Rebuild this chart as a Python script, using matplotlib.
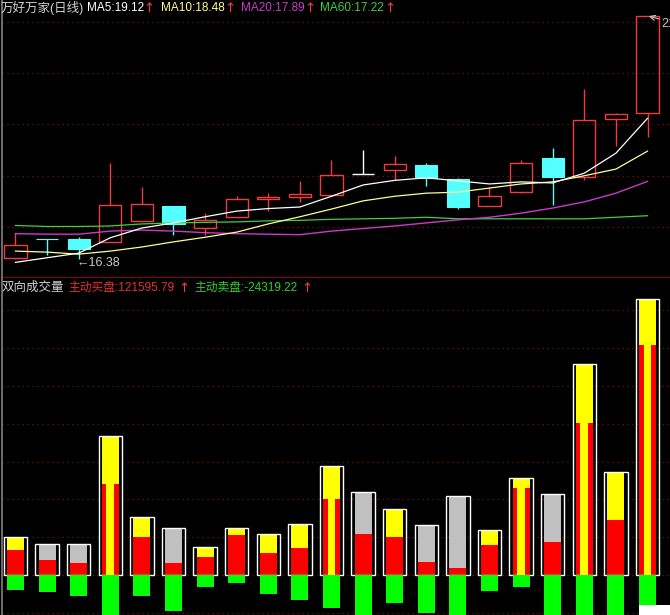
import matplotlib
matplotlib.use("Agg")
import matplotlib.pyplot as plt
from matplotlib.lines import Line2D
from matplotlib.patches import Rectangle
import numpy as np

W, H = 670, 615

# daily candles
opens  = [16.40, 16.77, 16.76, 16.71, 17.12, 17.41, 16.98, 17.20, 17.55, 17.59, 17.62,
          18.03, 18.11, 18.21, 17.94, 17.41, 17.68, 18.35, 17.98, 19.11, 19.22]
highs  = [16.88, 16.77, 16.80, 18.25, 17.78, 17.41, 17.27, 17.60, 17.66, 17.90, 18.31,
          18.50, 18.39, 18.25, 17.96, 17.78, 18.31, 18.54, 19.69, 19.22, 21.12]
lows   = [16.40, 16.46, 16.38, 16.71, 17.12, 16.84, 16.84, 17.20, 17.31, 17.49, 17.62,
          18.03, 17.92, 17.80, 17.35, 17.41, 17.66, 17.43, 17.92, 18.58, 18.76]
closes = [16.65, 16.76, 16.57, 17.43, 17.45, 17.06, 17.14, 17.55, 17.59, 17.64, 18.01,
          18.03, 18.23, 17.96, 17.39, 17.60, 18.25, 17.98, 19.09, 19.20, 21.12]

ma5  = [16.31, 16.40, 16.49, 16.79, 16.98, 17.08, 17.20, 17.31, 17.36, 17.39, 17.60,
        17.82, 17.91, 17.96, 17.90, 17.84, 17.88, 17.86, 18.05, 18.44, 19.12]
ma10 = [16.53, 16.51, 16.47, 16.53, 16.61, 16.71, 16.80, 16.90, 17.06, 17.20, 17.35,
        17.51, 17.60, 17.66, 17.68, 17.76, 17.84, 17.88, 18.00, 18.13, 18.48]
ma20 = [16.87, 16.86, 16.86, 16.92, 16.94, 16.92, 16.89, 16.87, 16.86, 16.85, 16.92,
        16.97, 17.02, 17.08, 17.14, 17.19, 17.27, 17.37, 17.49, 17.66, 17.89]
ma60 = [17.03, 17.01, 17.01, 17.02, 17.06, 17.08, 17.09, 17.10, 17.12, 17.13, 17.15,
        17.16, 17.17, 17.19, 17.16, 17.16, 17.16, 17.16, 17.16, 17.19, 17.22]

# two-way volume (active buy / active sell)
vol_total = [19930, 16230, 16230, 73650, 30510, 24690, 14645, 24690, 21518, 26805, 57628,
             43723, 34736, 26276, 41926, 23792, 51443, 42666, 111396, 54297, 145763]
vol_buy   = [13218, 7931, 6503, 48112, 20249, 6503, 9675, 21148, 11790, 14434, 40181,
             21677, 20249, 7032, 3542, 15861, 46156, 17606, 80521, 29079, 121595.79]
vol_sell  = [7931, 8829, 10944, 31722, 10944, 18875, 6186, 4071, 10204, 13218, 17606,
             26435, 14962, 19932, 31722, 8301, 6186, 25378, 37009, 23792, 24319.22]

price_grid = [17, 18, 19, 20, 21]
vol_grid = [-20000, 0, 20000, 40000, 60000, 80000, 100000, 120000, 140000]

RED = "#F03C3C"
CYAN = "#54FFFF"
GRID = "#7A1010"
x = np.arange(len(closes))

fig = plt.figure(figsize=(W / 100, H / 100), dpi=100, facecolor="black")
ax1 = fig.add_axes([2 / W, (H - 278) / H, (W - 2) / W, 278 / H])
ax2 = fig.add_axes([2 / W, 0, (W - 2) / W, (H - 278) / H])

for ax in (ax1, ax2):
    ax.set_facecolor("black")
    ax.set_xlim(-0.427, 20.712)
    ax.set_xticks([])
    ax.tick_params(length=0, labelleft=False)
    ax.set_axisbelow(True)
    ax.yaxis.grid(True, color=GRID, linestyle=(0, (1, 3)), linewidth=0.9)
    for s in ax.spines.values():
        s.set_visible(False)

ax1.set_ylim(16.005, 21.429)
ax1.set_yticks(price_grid)
ax1.spines["bottom"].set_visible(True)
ax1.spines["bottom"].set_color("#B00000")
ax1.spines["bottom"].set_linewidth(1.2)

ax2.set_ylim(-21160, 157130)
ax2.set_yticks(vol_grid)

# candles
bw = 0.70
for i in x:
    o, h, l, c = opens[i], highs[i], lows[i], closes[i]
    if c > o:
        ax1.add_patch(Rectangle((i - bw / 2, o), bw, c - o, fill=False,
                                edgecolor=RED, linewidth=1.0))
        ax1.vlines(i, c, h, color=RED, linewidth=1.0)
        ax1.vlines(i, l, o, color=RED, linewidth=1.0)
    elif c < o:
        ax1.vlines(i, l, h, color=CYAN, linewidth=1.0)
        ax1.add_patch(Rectangle((i - bw / 2, c), bw, o - c, facecolor=CYAN,
                                edgecolor=CYAN, linewidth=0.8))
    else:
        ax1.vlines(i, l, h, color="white", linewidth=1.0)
        ax1.hlines(c, i - bw / 2, i + bw / 2, color="white", linewidth=1.0)

ax1.plot(x, ma60, color="#40D040", linewidth=0.9)
ax1.plot(x, ma20, color="#C83CC8", linewidth=1.0)
ax1.plot(x, ma10, color="#FFFF90", linewidth=0.9)
ax1.plot(x, ma5, color="white", linewidth=0.9)

imin = int(np.argmin(lows))
ax1.annotate("\u2190%.2f" % lows[imin], xy=(imin, lows[imin]), xytext=(-2, -4),
             textcoords="offset pixels", ha="left", va="center", color="#C8C8C8",
             fontsize=9, family=["Liberation Sans", "DejaVu Sans"])
imax = int(np.argmax(highs))
ax1.annotate("%.2f" % highs[imax], xy=(imax, highs[imax]), xytext=(14, -8),
             textcoords="offset pixels", ha="left", va="center", color="#C8C8C8",
             fontsize=9, family=["Liberation Sans", "DejaVu Sans"],
             arrowprops=dict(arrowstyle="->", color="#C8C8C8", lw=0.8,
                             shrinkA=0, shrinkB=1))

# volume panel
fw = 0.54
up = [c > o for o, c in zip(opens, closes)]
top_col = ["#FFFF00" if u else "#C0C0C0" for u in up]
rest = [t - b for t, b in zip(vol_total, vol_buy)]
ax2.bar(x, vol_buy, width=fw, color="#FF0000", linewidth=0)
ax2.bar(x, rest, bottom=vol_buy, width=fw, color=top_col, linewidth=0)
burst = [i for i in x[1:] if up[i] and vol_total[i] > 2 * vol_total[i - 1]]
ax2.bar(burst, [vol_buy[i] for i in burst], width=0.25, color="#FFFF00", linewidth=0)
ax2.bar(x, vol_total, width=0.74, fill=False, edgecolor="white", linewidth=1.0)
ax2.bar(x, [-v for v in vol_sell], width=fw, color="#00FF00", linewidth=0)

# headers
fam = ["Liberation Sans", "Noto Sans CJK SC", "DejaVu Sans"]
def label(px, py, s, col, size=8.5):
    fig.text(px / W, 1 - py / H, s, color=col, fontsize=size, family=fam,
             ha="left", va="center")

def arrow(px, py):
    fig.text(px / W, 1 - py / H, "\u2191", color=RED, fontsize=9.5,
             family=["DejaVu Sans"], ha="left", va="center")

label(1, 8, "万好万家(日线)", "#D0D0D0", 9)
label(87, 8, "MA5:%.2f" % ma5[-1], "white")
arrow(143, 8)
label(161, 8, "MA10:%.2f" % ma10[-1], "#FFFF90")
arrow(224, 8)
label(241, 8, "MA20:%.2f" % ma20[-1], "#C83CC8")
arrow(304, 8)
label(320, 8, "MA60:%.2f" % ma60[-1], "#40D040")
arrow(384, 8)

label(2, 288, "双向成交量", "#D0D0D0", 9)
label(68, 288, "主动买盘:%.2f" % vol_buy[-1], "#E83030")
arrow(178, 288)
label(194, 288, "主动卖盘:-%.2f" % vol_sell[-1], "#30D030")
arrow(301, 288)

fig.add_artist(Line2D([1.5 / W, 1.5 / W], [0, 1], color="#808080", linewidth=1.2))
fig.add_artist(Rectangle((639 / W, 0), 31 / W, 10 / H, transform=fig.transFigure,
                         facecolor="white", edgecolor="none"))

fig.savefig("out.png", dpi=100, facecolor="black")
